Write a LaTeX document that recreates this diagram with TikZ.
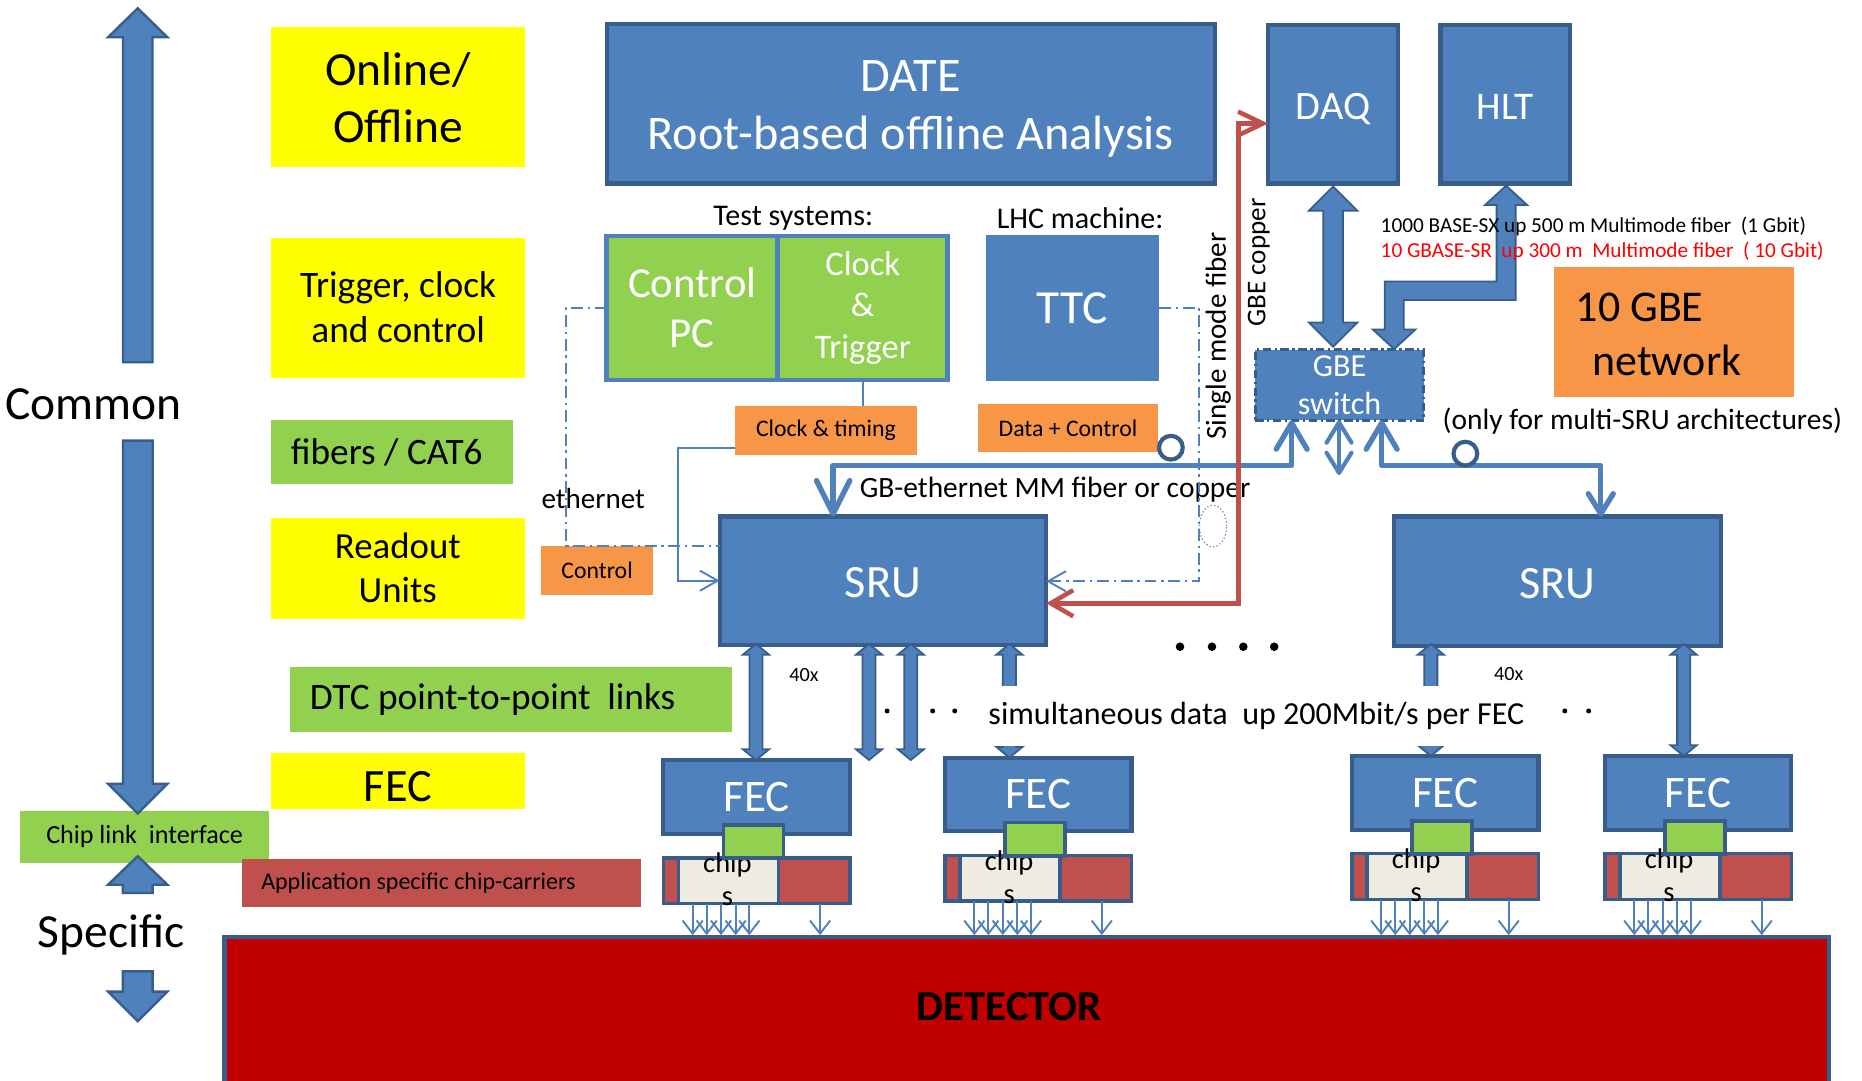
\documentclass[tikz,border=0pt]{standalone}
\usepackage{fontspec}
\setmainfont{Carlito}
\usetikzlibrary{arrows.meta,calc}
\definecolor{myblue}{HTML}{4F81BD}
\definecolor{mydark}{HTML}{385D8A}
\definecolor{myyellow}{HTML}{FFFF00}
\definecolor{mygreen}{HTML}{92D050}
\definecolor{myorange}{HTML}{F79646}
\definecolor{myred}{HTML}{C0504D}
\definecolor{detred}{HTML}{C00000}
\definecolor{mybeige}{HTML}{EEECE1}
\definecolor{txtred}{HTML}{FF0000}
\newcommand\fsz[2]{\fontsize{#1}{#2}\selectfont}
% vertical double block arrow: x, top tip y, bottom tip y, half shaft, half head, head length
\newcommand\vdouble[6]{%
 \filldraw[blockarrow] (#1,#2) -- ({#1+#5},{#2+#6}) -- ({#1+#4},{#2+#6}) -- ({#1+#4},{#3-#6}) -- ({#1+#5},{#3-#6}) -- (#1,#3) -- ({#1-#5},{#3-#6}) -- ({#1-#4},{#3-#6}) -- ({#1-#4},{#2+#6}) -- ({#1-#5},{#2+#6}) -- cycle;}
\newcommand\fecunit[3]{%
 \node[bluebox, anchor=north west, minimum width=157pt, minimum height=62pt, font=\fsz{38}{44}] (#1) at (#2,#3) {FEC};
 \node[box, fill=myred, draw=mydark, line width=3pt, anchor=north west, minimum width=157pt, minimum height=38.4pt] (#1c) at ({#2},{#3+82.3}) {};
 \node[box, fill=mybeige, draw=mydark, line width=3pt, anchor=north west, minimum width=84.2pt, minimum height=38.4pt] (#1b) at ({#2+12.6},{#3+82.3}) {};
 \node[lbl, font=\fsz{24}{28}] (#1t) at ({#2+54},{#3+100.6}) {chip\\s};
 \node[box, fill=mygreen, draw=mydark, line width=3pt, anchor=north west, minimum width=50.5pt, minimum height=28pt] (#1g) at ({#2+50.5},{#3+54.7}) {};
 \foreach \dx in {24.7,36.5,48.6,60.9,72.4,132}
   \draw[thinline, -{Straight Barb[length=11pt,width=17pt]}] ({#2+\dx},{#3+121}) -- ({#2+\dx},787.5);
}
\begin{document}
\begin{tikzpicture}[x=1pt,y=-1pt,
 box/.style={rectangle, inner sep=0pt, outer sep=0pt, align=center},
 bluebox/.style={box, fill=myblue, draw=mydark, line width=3.5pt, text=white},
 ybox/.style={box, fill=myyellow},
 gbox/.style={box, fill=mygreen},
 obox/.style={box, fill=myorange},
 lbl/.style={inner sep=0pt, outer sep=0pt, align=center},
 blockarrow/.style={fill=myblue, draw=mydark, line width=1.5pt, line join=miter},
 ethline/.style={draw=myblue, line width=4.5pt, line join=round},
 thinline/.style={draw=myblue, line width=1.6pt},
 dashdot/.style={draw=myblue, line width=1.6pt, dash pattern=on 10pt off 4pt on 2pt off 4pt},
 redline/.style={draw=myred, line width=3.8pt},
]
\useasboundingbox (0,0) rectangle (1568,910);
\clip (0,0) rectangle (1568,910);
\fill[white] (0,0) rectangle (1568,910);

% left column labels
\node[ybox, minimum width=213.5pt, minimum height=118pt, font=\fsz{40}{48}] (online) at (335.25,82) {Online/\\Offline};
\node[ybox, minimum width=213.5pt, minimum height=118pt, font=\fsz{31.5}{38}] (trig) at (335.25,259) {Trigger, clock\\and control};
\node[gbox, minimum width=203.6pt, minimum height=54pt] (fibers) at (329.8,380.7) {};
\node[lbl, anchor=west, font=\fsz{31.4}{36}] (fiberstext) at (245,381) {fibers / CAT6};
\node[ybox, minimum width=214pt, minimum height=85pt, font=\fsz{31}{37}] (readout) at (335,478.5) {Readout\\Units};
\node[gbox, minimum width=372pt, minimum height=54.3pt] (dtc) at (430,588.85) {};
\node[lbl, anchor=west, font=\fsz{31.4}{36}] (dtctext) at (261,589) {DTC point-to-point\ \ links};
\node[ybox, minimum width=214pt, minimum height=47pt, text height=35pt, text depth=0pt, font=\fsz{39}{46}] (fecy) at (335,657.5) {FEC};
\node[gbox, minimum width=209.6pt, minimum height=43.5pt, font=\fsz{22}{26}] (chiplink) at (121.8,704.75) {Chip link\ \ interface};
\node[box, fill=myred, minimum width=336pt, minimum height=40.6pt] (appl) at (372,743.7) {};
\node[lbl, anchor=west, font=\fsz{20.2}{24}] (appltext) at (220,744) {Application specific chip-carriers};
\node[lbl, font=\fsz{40}{46}] (common) at (78.5,340) {Common};
\node[lbl, font=\fsz{40}{46}] (specific) at (93.5,787) {Specific};

% left block arrows
\filldraw[blockarrow, line width=2pt] (116,7) -- (141,31.4) -- (128.4,31.4) -- (128.4,305) -- (103.6,305) -- (103.6,31.4) -- (91,31.4) -- cycle;
\filldraw[blockarrow, line width=2pt] (103.6,371) -- (128.6,371) -- (128.6,660) -- (141,660) -- (116,685) -- (91,660) -- (103.6,660) -- cycle;
\filldraw[blockarrow, line width=2pt] (116,721) -- (141,745) -- (128.5,745) -- (128.5,752) -- (103.5,752) -- (103.5,745) -- (91,745) -- cycle;
\filldraw[blockarrow, line width=2pt] (103.5,818) -- (128.5,818) -- (128.5,835) -- (141,835) -- (116,860) -- (91,835) -- (103.5,835) -- cycle;

% top boxes
\node[bluebox, minimum width=512pt, minimum height=134pt] (date) at (767,87.5) {};
\node[lbl, text=white, font=\fsz{40.6}{49}] (datetext) at (767,92) {DATE\\Root-based offline Analysis};
\node[bluebox, minimum width=109pt, minimum height=133.5pt, text height=26.4pt, text depth=0pt, font=\fsz{34}{40}] (daq) at (1122.5,87.75) {DAQ};
\node[bluebox, minimum width=109pt, minimum height=133.5pt, text height=25.7pt, text depth=0pt, font=\fsz{33}{40}] (hlt) at (1267.5,87.75) {HLT};

\node[lbl, font=\fsz{25.3}{30}] (testsys) at (668,183.6) {Test systems:};
\node[lbl, font=\fsz{25.3}{30}] (lhc) at (909.6,183.6) {LHC machine:};
\node[box, fill=mygreen, draw=myblue, line width=4pt, text=white, minimum width=144pt, minimum height=121.3pt, font=\fsz{36}{42}] (ctrlpc) at (583,259.35) {Control\\PC};
\node[box, fill=mygreen, draw=myblue, line width=4pt, text=white, minimum width=143pt, minimum height=121.3pt, font=\fsz{29}{35}] (clktrig) at (726.5,259.35) {Clock\\\&\\Trigger};
\node[box, fill=myblue, text=white, minimum width=145.5pt, minimum height=122.6pt, font=\fsz{40}{46}] (ttc) at (903.25,259.3) {TTC};
\node[obox, minimum width=153pt, minimum height=41pt, font=\fsz{20}{24}] (clktiming) at (695.5,362.5) {Clock \& timing};
\node[obox, minimum width=151.3pt, minimum height=41pt, font=\fsz{20}{24}] (datactrl) at (899.35,360.5) {Data + Control};
\node[lbl, font=\fsz{24.5}{28}] (ethernet) at (499.5,420) {ethernet};
\node[obox, minimum width=94.4pt, minimum height=40.8pt, font=\fsz{20}{24}] (control) at (502.8,480.4) {Control};

% switch and network
\node[box, fill=myblue, draw=mydark, line width=2.5pt, dash pattern=on 7pt off 3pt on 2pt off 3pt, text=white, minimum width=142pt, minimum height=59.3pt, font=\fsz{27}{32}] (switch) at (1128,324.35) {GBE\\switch};
\node[lbl, rotate=90, font=\fsz{24.5}{28}] (smf) at (1026,283) {Single mode fiber};
\node[lbl, rotate=90, font=\fsz{22.8}{26}] (gbecu) at (1060,221) {GBE copper};

\vdouble{1122.6}{157}{292}{8.3}{20.5}{20.5}
\filldraw[blockarrow] (1268.3,156.4) -- (1286,172.6) -- (1276.3,172.6) -- (1276.3,252.6) -- (1182,252.6) -- (1182,277.4) -- (1192,277.4) -- (1174,294) -- (1156,277.4) -- (1166,277.4) -- (1166,237) -- (1260.3,237) -- (1260.3,172.6) -- (1250.6,172.6) -- cycle;

\node[lbl, anchor=west, font=\fsz{17.9}{21}] (sx) at (1162.7,191) {1000 BASE-SX up 500 m Multimode fiber\ \ (1 Gbit)};
\node[lbl, anchor=west, text=txtred, font=\fsz{17.9}{21}] (sr) at (1162.7,212) {10 GBASE-SR\ \ up 300 m\ \ Multimode fiber\ \ ( 10 Gbit)};
\node[obox, minimum width=201.5pt, minimum height=109pt] (gbe10) at (1409.55,279.5) {};
\node[lbl, anchor=west, align=left, font=\fsz{37}{46}] (gbe10t) at (1327,281.5) {10 GBE\\\hspace*{14pt}network};
\node[lbl, font=\fsz{24.8}{28}] (only) at (1383,355) {(only for multi-SRU architectures)};
\node[lbl, anchor=west, font=\fsz{24.8}{28}] (gbeth) at (724,412.6) {GB-ethernet MM fiber or copper};

% SRUs
\node[bluebox, minimum width=275pt, minimum height=108pt, text height=29pt, text depth=0pt, font=\fsz{39}{46}] (sru1) at (743.5,489) {SRU};
\node[bluebox, minimum width=275pt, minimum height=108.7pt, text height=29pt, text depth=0pt, font=\fsz{39}{46}] (sru2) at (1311.5,489.35) {SRU};

% detector
\node[box, fill=detred, draw=mydark, line width=3.5pt, minimum width=1351pt, minimum height=160pt, anchor=north west] (det) at (189,789) {};
\node[lbl, font=\bfseries\fsz{36}{42}] (dettext) at (850,848) {DETECTOR};

% FEC units
\fecunit{fecA}{558.6}{640}
\fecunit{fecB}{795.8}{638}
\fecunit{fecC}{1138.5}{636.6}
\fecunit{fecD}{1351.5}{636.6}

% SRU - FEC block arrows
\vdouble{636.6}{542.3}{640}{5.5}{11}{9}
\vdouble{731.8}{542.3}{640}{5.5}{11}{9}
\vdouble{767}{542.3}{640}{5.5}{11}{9}
\vdouble{850}{542.3}{638}{5.5}{11}{9}
\vdouble{1204.9}{542.3}{636.6}{5.5}{11}{9}
\vdouble{1417.8}{542.3}{636.6}{5.5}{11}{9}
\node[box, fill=white, minimum width=462pt, minimum height=50pt, font=\fsz{27}{30}] (simul) at (1058,603) {simultaneous data\ \ up 200Mbit/s per FEC};
\node[lbl, font=\fsz{17}{20}] (n40a) at (677,568.4) {40x};
\node[lbl, font=\fsz{17}{20}] (n40b) at (1270.5,567.6) {40x};
\foreach \px in {993.7,1020.6,1047,1073} \fill (\px,544.6) circle[radius=3.6pt];
\foreach \px in {747,785.4,804,1317.7,1337.8} \fill (\px,598.7) circle[radius=2.1pt];

% thin connectors
\draw[thinline] (clktrig.south) -- (clktrig.south |- clktiming.north);
\draw[thinline, -{Straight Barb[length=15pt,width=17pt]}] ([yshift=-14.5pt]clktiming.west) -| ([xshift=-35pt]sru1.west) -- (sru1.west);
\coordinate (e1) at (477,459.5);
\draw[dashdot] (ctrlpc.west) -| (e1) -- (e1 -| sru1.west);
\coordinate (t1) at (1009.8,489.5);
\draw[dashdot, -{Straight Barb[length=15pt,width=17pt]}] (ttc.east) -| (t1) -- (t1 -| sru1.east);
\draw[myblue, line width=1pt, dotted] (1021.5,443) ellipse[x radius=11.5pt, y radius=17.5pt];

% GB ethernet lines
\coordinate (g1) at (1087.7,392);
\coordinate (g2) at (701.6,392);
\coordinate (g3) at (1163.5,392);
\coordinate (g4) at (1348,392);
\coordinate (g5) at (1127.6,400);
\draw[ethline, {Straight Barb[length=22pt,width=26pt,round]}-{Straight Barb[length=28pt,width=28pt,round]}] (g1 |- switch.south) -- (g1) -- (g2) -- (g2 |- sru1.north);
\draw[ethline, {Straight Barb[length=22pt,width=26pt,round]}-{Straight Barb[length=17pt,width=21pt,round]}] (g3 |- switch.south) -- (g3) -- (g4) -- (g4 |- sru2.north);
\draw[ethline, line width=3.5pt, {Straight Barb[length=17pt,width=21pt,round]}-{Straight Barb[length=17pt,width=21pt,round]}] (g5 |- switch.south) -- (g5);
\draw[draw=mydark, line width=3.5pt, fill=white] (986,377) circle[radius=10pt];
\draw[draw=mydark, line width=3.5pt, fill=white] (1234,382) circle[radius=10pt];

% red single mode fiber
\coordinate (r1) at (1043,104);
\draw[redline, {Straight Barb[length=19pt,width=22pt]}-{Straight Barb[length=21pt,width=20pt]}] ([yshift=-19pt]sru1.east) -| (r1) -- (r1 -| daq.west);
\end{tikzpicture}
\end{document}
